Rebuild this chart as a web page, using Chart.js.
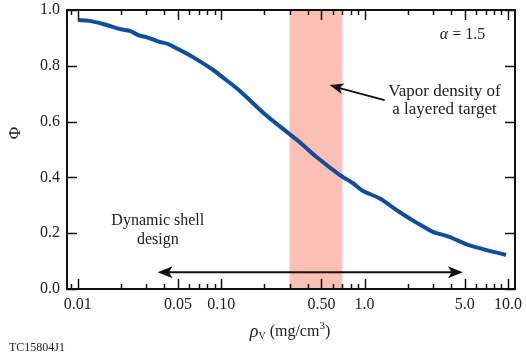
<!DOCTYPE html>
<html>
<head>
<meta charset="utf-8">
<script src="https://cdn.jsdelivr.net/npm/chart.js@4"></script>
<style>
  body { margin: 0; background: #fff; }
  #wrap { width: 526px; height: 356px; position: relative; }
</style>
</head>
<body>
<div id="wrap"><canvas id="myChart"></canvas></div>
<script>
// density (mg/cm3) and phi
const rhoValues = [0.01, 0.012, 0.015, 0.02, 0.023, 0.027, 0.03, 0.037, 0.042, 0.05,
    0.067, 0.088, 0.1, 0.135, 0.2, 0.3, 0.35, 0.46, 0.67, 0.83,
    0.97, 1.27, 1.75, 2.3, 3.0, 3.9, 5.1, 6.7, 9.7];
const phiValues = [0.964, 0.961, 0.950, 0.931, 0.925, 0.908, 0.903, 0.886, 0.879, 0.860,
    0.824, 0.785, 0.763, 0.710, 0.628, 0.555, 0.528, 0.474, 0.409, 0.379,
    0.352, 0.325, 0.276, 0.238, 0.205, 0.187, 0.161, 0.143, 0.122];
const vaporBand = [0.3, 0.7];
const shellRange = [0.036, 4.85];
const xTickValues = [0.01, 0.05, 0.1, 0.5, 1, 5, 10];
const xTickLabels = ['0.01', '0.05', '0.10', '0.50', '1.0', '5.0', '10.0'];
const yTickValues = [0, 0.2, 0.4, 0.6, 0.8, 1.0];

const serif = "'Liberation Serif', 'Times New Roman', serif";

function arrowHead(ctx, x1, y1, x2, y2, len, half) {
    const a = Math.atan2(y2 - y1, x2 - x1);
    ctx.beginPath();
    ctx.moveTo(x2, y2);
    ctx.lineTo(x2 - len * Math.cos(a) + half * Math.sin(a), y2 - len * Math.sin(a) - half * Math.cos(a));
    ctx.lineTo(x2 - len * Math.cos(a) * 0.75, y2 - len * Math.sin(a) * 0.75);
    ctx.lineTo(x2 - len * Math.cos(a) - half * Math.sin(a), y2 - len * Math.sin(a) + half * Math.cos(a));
    ctx.closePath();
    ctx.fill();
}

const decorPlugin = {
    id: 'decor',
    beforeDatasetsDraw(chart) {
        const { ctx, chartArea, scales } = chart;
        const x0 = scales.x.getPixelForValue(vaporBand[0]);
        const x1 = scales.x.getPixelForValue(vaporBand[1]);
        ctx.save();
        ctx.fillStyle = '#fbbfb3';
        ctx.fillRect(x0, chartArea.top, x1 - x0, chartArea.bottom - chartArea.top);
        ctx.restore();
    },
    afterDraw(chart) {
        const { ctx, chartArea: a, scales } = chart;
        const xs = scales.x, ys = scales.y;
        ctx.save();
        ctx.strokeStyle = '#111';
        ctx.fillStyle = '#111';
        ctx.lineWidth = 2;
        ctx.strokeRect(a.left, a.top, a.right - a.left, a.bottom - a.top);

        // x ticks, top and bottom, pointing inward
        ctx.lineWidth = 1.5;
        for (let e = -3; e <= 1; e++) {
            for (let m = 1; m <= 9; m++) {
                const v = m * Math.pow(10, e);
                if (v < xs.min || v > xs.max) continue;
                const major = xTickValues.some(t => Math.abs(t - v) / t < 1e-6);
                const len = major ? 10 : 5;
                const px = Math.round(xs.getPixelForValue(v)) + 0.5;
                ctx.beginPath();
                ctx.moveTo(px, a.bottom); ctx.lineTo(px, a.bottom - len);
                ctx.moveTo(px, a.top); ctx.lineTo(px, a.top + len);
                ctx.stroke();
            }
        }
        // y ticks, left and right
        yTickValues.forEach(v => {
            const py = Math.round(ys.getPixelForValue(v)) + 0.5;
            ctx.beginPath();
            ctx.moveTo(a.left, py); ctx.lineTo(a.left + 10, py);
            ctx.moveTo(a.right, py); ctx.lineTo(a.right - 10, py);
            ctx.stroke();
        });

        // double arrow for dynamic shell design
        const ay = ys.getPixelForValue(0.06);
        const ax0 = xs.getPixelForValue(shellRange[0]);
        const ax1 = xs.getPixelForValue(shellRange[1]);
        ctx.lineWidth = 2;
        ctx.beginPath();
        ctx.moveTo(ax0 + 8, ay); ctx.lineTo(ax1 - 8, ay);
        ctx.stroke();
        arrowHead(ctx, ax1, ay, ax0, ay, 15, 6);
        arrowHead(ctx, ax0, ay, ax1, ay, 15, 6);

        // arrow pointing at vapor band
        const tx = xs.getPixelForValue(0.57), ty = ys.getPixelForValue(0.731);
        const sx = xs.getPixelForValue(1.38), sy = ys.getPixelForValue(0.677);
        ctx.lineWidth = 1.8;
        ctx.beginPath();
        ctx.moveTo(sx, sy); ctx.lineTo(tx + 10, ty + 3);
        ctx.stroke();
        arrowHead(ctx, sx, sy, tx, ty, 14, 5.5);

        // annotation text
        ctx.fillStyle = '#222';
        ctx.textAlign = 'center';
        ctx.textBaseline = 'middle';
        ctx.font = '17px ' + serif;
        const vx = xs.getPixelForValue(3.61);
        ctx.fillText('Vapor density of', vx, ys.getPixelForValue(0.706));
        ctx.fillText('a layered target', vx, ys.getPixelForValue(0.642));
        ctx.font = '16px ' + serif;
        const dx = xs.getPixelForValue(0.0361);
        ctx.fillText('Dynamic shell', dx, ys.getPixelForValue(0.244));
        ctx.fillText('design', dx, ys.getPixelForValue(0.176));

        // alpha label
        const alx = xs.getPixelForValue(4.82), aly = ys.getPixelForValue(0.91);
        ctx.textAlign = 'left';
        ctx.font = 'italic 16px ' + serif;
        const w1 = ctx.measureText('\u03b1').width;
        ctx.font = '16px ' + serif;
        const w2 = ctx.measureText(' = 1.5').width;
        let cx = alx - (w1 + w2) / 2;
        ctx.font = 'italic 16px ' + serif;
        ctx.fillText('\u03b1', cx, aly);
        ctx.font = '16px ' + serif;
        ctx.fillText(' = 1.5', cx + w1, aly);

        // y title
        ctx.save();
        ctx.translate(16, 133);
        ctx.rotate(-Math.PI / 2);
        ctx.textAlign = 'center';
        ctx.font = '17px ' + serif;
        ctx.fillText('\u03a6', 0, 0);
        ctx.restore();

        // x title with subscript and superscript
        const parts = [
            { t: '\u03c1', f: 'italic 18px ' + serif, dy: 0 },
            { t: 'V', f: '10px ' + serif, dy: 4 },
            { t: ' (mg/cm', f: '16px ' + serif, dy: 0 },
            { t: '3', f: '11px ' + serif, dy: -6 },
            { t: ')', f: '16px ' + serif, dy: 0 }
        ];
        let total = 0;
        parts.forEach(p => { ctx.font = p.f; p.w = ctx.measureText(p.t).width; total += p.w; });
        cx = 290 - total / 2;
        parts.forEach(p => {
            ctx.font = p.f;
            ctx.fillText(p.t, cx, 332 + p.dy);
            cx += p.w;
        });

        // figure id
        ctx.font = '12px ' + serif;
        ctx.fillText('TC15804J1', 9, 348);
        ctx.restore();
    }
};

const ctx = document.getElementById('myChart').getContext('2d');
new Chart(ctx, {
    type: 'line',
    data: {
        datasets: [{
            data: rhoValues.map((r, i) => ({ x: r, y: phiValues[i] })),
            borderColor: '#0b4ea2',
            borderWidth: 4,
            pointRadius: 0,
            tension: 0.3,
            fill: false
        }]
    },
    options: {
        animation: false,
        responsive: true,
        maintainAspectRatio: false,
        layout: { padding: { top: 10, right: 11, left: 0, bottom: 0 } },
        plugins: { legend: { display: false }, tooltip: { enabled: false } },
        scales: {
            x: {
                type: 'logarithmic',
                min: 0.0084,
                max: 11.2,
                grid: { display: false, drawTicks: false },
                border: { display: false },
                afterBuildTicks: scale => {
                    scale.ticks = xTickValues.map(v => ({ value: v }));
                },
                afterFit: scale => {
                    scale.height = 67;
                    scale.paddingLeft = 0;
                    scale.paddingRight = 0;
                },
                ticks: {
                    autoSkip: false,
                    maxRotation: 0,
                    padding: 6,
                    color: '#222',
                    font: { family: serif, size: 16 },
                    callback: (v, i) => xTickLabels[i]
                }
            },
            y: {
                min: 0,
                max: 1,
                grid: { display: false, drawTicks: false },
                border: { display: false },
                afterBuildTicks: scale => {
                    scale.ticks = yTickValues.map(v => ({ value: v }));
                },
                afterFit: scale => {
                    scale.width = 67;
                    scale.paddingTop = 0;
                    scale.paddingBottom = 0;
                },
                ticks: {
                    padding: 7,
                    color: '#222',
                    font: { family: serif, size: 16 },
                    callback: v => v.toFixed(1)
                }
            }
        }
    },
    plugins: [decorPlugin]
});
</script>
</body>
</html>
